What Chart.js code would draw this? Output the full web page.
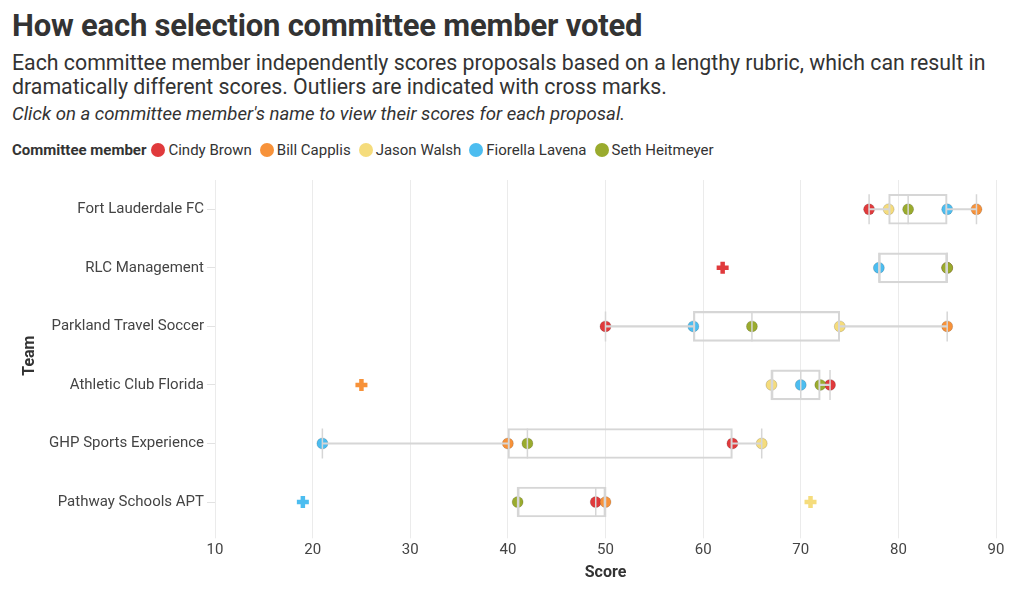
<!DOCTYPE html>
<html>
<head>
<meta charset="utf-8">
<script src="https://cdn.jsdelivr.net/npm/chart.js@4"></script>
<style>
  html, body { margin: 0; padding: 0; background: #fff; }
  body { width: 1020px; height: 604px; position: relative; overflow: hidden; font-family: Roboto, sans-serif; color: #333; }
  .line { position: absolute; left: 12px; white-space: nowrap; margin: 0; }
  #title { top: 8px; font-size: 31px; line-height: 36px; font-weight: 700; letter-spacing: -0.2px; }
  #sub { top: 51px; font-size: 21.3px; line-height: 24px; }
  #note { top: 104px; font-size: 18.6px; line-height: 20px; font-style: italic; }
  #legend { top: 141px; font-size: 15px; line-height: 18px; display: flex; align-items: center; }
  #legend b { margin-right: 5px; }
  #legend .dot { display: inline-block; width: 14px; height: 14px; border-radius: 50%; margin: 0 3px 0 0; }
  #legend .item { display: inline-flex; align-items: center; margin-right: 8px; }
  #wrap { position: absolute; left: 0; top: 160px; width: 1020px; height: 444px; }
</style>
</head>
<body>
<div id="title" class="line">How each selection committee member voted</div>
<div id="sub" class="line">Each committee member independently scores proposals based on a lengthy rubric, which can result in<br>dramatically different scores. Outliers are indicated with cross marks.</div>
<div id="note" class="line">Click on a committee member's name to view their scores for each proposal.</div>
<div id="legend" class="line"></div>
<div id="wrap"><canvas id="chart"></canvas></div>
<script>
const teams = ['Fort Lauderdale FC', 'RLC Management', 'Parkland Travel Soccer',
  'Athletic Club Florida', 'GHP Sports Experience', 'Pathway Schools APT'];

const members = ['Cindy Brown', 'Bill Capplis', 'Jason Walsh', 'Fiorella Lavena', 'Seth Heitmeyer'];
const memberColors = ['#e03a3c', '#f7923a', '#f5dc7c', '#4cbdf0', '#9aab2e'];

// scores per team, same order as teams
const cindyBrown     = [77, 62, 50, 73, 63, 49];
const billCapplis    = [88, 85, 85, 25, 40, 50];
const jasonWalsh     = [79, 85, 74, 67, 66, 71];
const fiorellaLavena = [85, 78, 59, 70, 21, 19];
const sethHeitmeyer  = [81, 85, 65, 72, 42, 41];
const memberScores = [cindyBrown, billCapplis, jasonWalsh, fiorellaLavena, sethHeitmeyer];

// box plot summary per team
const whiskerLow  = [77, 78, 50, 67, 21, 41];
const q1          = [79, 78, 59, 67, 40, 41];
const median      = [81, 85, 65, 70, 42, 49];
const q3          = [85, 85, 74, 72, 63, 50];
const whiskerHigh = [88, 85, 85, 73, 66, 50];

const scoreMin = 10;
const scoreMax = 90;
const scoreStep = 10;

const boxGray = '#d6d6d6';
const textColor = '#444';

// legend
var legend = document.getElementById('legend');
legend.innerHTML = '<b>Committee member</b>';
members.forEach(function(name, i) {
  var item = document.createElement('span');
  item.className = 'item';
  item.innerHTML = '<span class="dot" style="background:' + memberColors[i] + '"></span>' + name;
  legend.appendChild(item);
});

function isOutlier(v, i) {
  return v < whiskerLow[i] || v > whiskerHigh[i];
}

var pointSets = members.map(function(name, m) {
  var scores = memberScores[m];
  return {
    type: 'scatter',
    label: name,
    order: 1 + (members.length - 1 - m),
    data: teams.map(function(t, i) { return {x: scores[i], y: t}; }),
    pointStyle: scores.map(function(v, i) { return isOutlier(v, i) ? 'cross' : 'circle'; }),
    pointRadius: scores.map(function(v, i) { return isOutlier(v, i) ? 6 : 5.5; }),
    pointBorderWidth: scores.map(function(v, i) { return isOutlier(v, i) ? 4.5 : 1; }),
    backgroundColor: memberColors[m],
    borderColor: scores.map(function(v, i) { return isOutlier(v, i) ? memberColors[m] : 'rgba(0,0,0,0.15)'; }),
    pointHoverRadius: 5.5
  };
});

var boxSets = [
  {
    type: 'bar',
    label: 'box',
    order: 0,
    data: teams.map(function(t, i) { return [q1[i], q3[i]]; }),
    backgroundColor: 'rgba(0,0,0,0)',
    borderColor: boxGray,
    borderWidth: 1.5,
    borderSkipped: false,
    barThickness: 30,
    grouped: false
  },
  {
    type: 'bar',
    label: 'lower whisker',
    order: 0,
    data: teams.map(function(t, i) { return [whiskerLow[i], q1[i]]; }),
    backgroundColor: boxGray,
    borderWidth: 0,
    barThickness: 1.5,
    grouped: false
  },
  {
    type: 'bar',
    label: 'upper whisker',
    order: 0,
    data: teams.map(function(t, i) { return [q3[i], whiskerHigh[i]]; }),
    backgroundColor: boxGray,
    borderWidth: 0,
    barThickness: 1.5,
    grouped: false
  },
  {
    type: 'scatter',
    label: 'median',
    order: 0,
    data: teams.map(function(t, i) { return {x: median[i], y: t}; }),
    pointStyle: 'line',
    rotation: 90,
    pointRadius: 15,
    borderColor: boxGray,
    borderWidth: 1.5
  },
  {
    type: 'scatter',
    label: 'caps',
    order: 0,
    data: teams.map(function(t, i) { return {x: whiskerLow[i], y: t}; })
      .concat(teams.map(function(t, i) { return {x: whiskerHigh[i], y: t}; })),
    pointStyle: 'line',
    rotation: 90,
    pointRadius: 15,
    borderColor: boxGray,
    borderWidth: 1.5
  }
];

Chart.defaults.font.family = 'Roboto, sans-serif';
Chart.defaults.color = textColor;

new Chart(document.getElementById('chart'), {
  type: 'bar',
  data: {
    labels: teams,
    datasets: boxSets.concat(pointSets)
  },
  options: {
    indexAxis: 'y',
    responsive: true,
    maintainAspectRatio: false,
    animation: false,
    layout: {padding: {top: 20, right: 24, bottom: 10, left: 12}},
    plugins: {
      legend: {display: false},
      tooltip: {enabled: false}
    },
    scales: {
      x: {
        type: 'linear',
        min: scoreMin,
        max: scoreMax,
        ticks: {stepSize: scoreStep, font: {size: 15}, padding: 3, color: textColor},
        grid: {color: '#ebebeb', tickLength: 7, drawTicks: true},
        border: {display: false},
        title: {display: true, text: 'Score', font: {size: 16, weight: 'bold'}, color: '#333', padding: {top: 1.5, bottom: 11}}
      },
      y: {
        type: 'category',
        ticks: {font: {size: 15}, padding: 3, color: textColor},
        grid: {offset: false, drawOnChartArea: false, drawTicks: true, tickLength: 8, color: '#e2e2e2'},
        border: {display: false},
        title: {display: true, text: 'Team', font: {size: 16, weight: 'bold'}, color: '#333', padding: {top: 8}},
        afterFit: function(scale) { scale.width = 203; }
      }
    }
  }
});
</script>
</body>
</html>
